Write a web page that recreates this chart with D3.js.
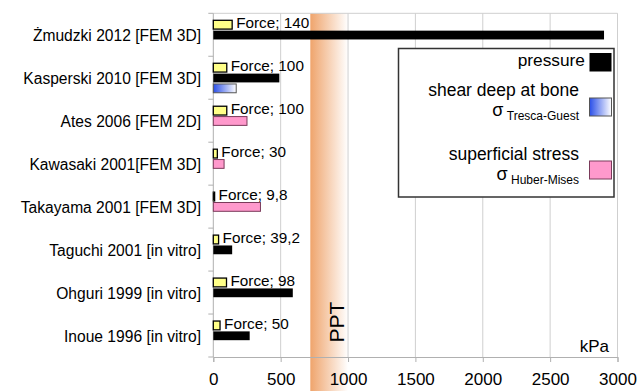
<!DOCTYPE html>
<html><head><meta charset="utf-8">
<script src="https://cdn.jsdelivr.net/npm/d3@7"></script>
<style>body{margin:0;background:#fff}text{font-family:"Liberation Sans",Arial,sans-serif}</style>
</head><body><svg id="c" width="638" height="391"></svg>
<script>
const categories = ["Żmudzki 2012 [FEM 3D]","Kasperski 2010 [FEM 3D]","Ates 2006 [FEM 2D]","Kawasaki 2001[FEM 3D]","Takayama  2001 [FEM 3D]","Taguchi 2001 [in vitro]","Ohguri 1999 [in vitro]","Inoue 1996 [in vitro]"];
const force = [140,100,100,30,9.8,39.2,98,50];
const forceLabels = ["140","100","100","30","9,8","39,2","98","50"];
const pressure = [2900,490,null,null,null,140,590,270];
const shear = [null,170,null,null,null,null,null,null];
const superficial = [null,null,250,80,350,null,null,null];
const ppt = [720,1000];
const xTicks = [0,500,1000,1500,2000,2500,3000];

const svg = d3.select("#c");
const L=213.3, R=617.5, T=13.3, B=357;
const x = d3.scaleLinear().domain([0,3000]).range([L,R]);
const y = d3.scaleBand().domain(categories).range([T,B]);
const slot = d3.scaleBand().domain(["force","main","shear"]).range([7,36.5]).paddingInner(0.15);

const defs = svg.append("defs");
const og = defs.append("linearGradient").attr("id","og");
og.append("stop").attr("offset","0%").attr("stop-color","#efa46c");
og.append("stop").attr("offset","100%").attr("stop-color","#ffffff");
const bg = defs.append("linearGradient").attr("id","bg");
bg.append("stop").attr("offset","0%").attr("stop-color","#2a4fe8");
bg.append("stop").attr("offset","100%").attr("stop-color","#ffffff");

// PPT band
svg.append("rect").attr("x",x(ppt[0])).attr("y",T).attr("width",x(ppt[1])-x(ppt[0])).attr("height",391-T).attr("fill","url(#og)");

// grid
svg.append("g").selectAll("line").data(xTicks.slice(1)).join("line")
  .attr("x1",d=>x(d)).attr("x2",d=>x(d)).attr("y1",T).attr("y2",B)
  .attr("stroke","#cfcfcf").attr("stroke-width",1);
svg.append("line").attr("x1",L).attr("x2",R).attr("y1",T).attr("y2",T).attr("stroke","#cfcfcf");

// bottom axis
const xa = svg.append("g").attr("transform",`translate(0,${B})`)
  .call(d3.axisBottom(x).tickValues(xTicks).tickSize(5).tickPadding(11).tickFormat(d3.format("d")));
xa.select(".domain").attr("stroke","#b0b0b0");
xa.selectAll(".tick line").attr("stroke","#b0b0b0");
xa.selectAll(".tick text").attr("font-size","17px").attr("fill","#000").attr("font-family","Liberation Sans, Arial, sans-serif");

// left axis
const ya = svg.append("g").attr("transform",`translate(${L},0)`);
ya.append("line").attr("x1",0).attr("x2",0).attr("y1",T).attr("y2",B).attr("stroke","#b0b0b0");
ya.selectAll(".bt").data(d3.range(categories.length+1)).join("line")
  .attr("x1",-5).attr("x2",0).attr("y1",i=>T+i*y.step()).attr("y2",i=>T+i*y.step()).attr("stroke","#b0b0b0");
svg.append("g").selectAll("text").data(categories).join("text")
  .attr("x",201).attr("y",d=>y(d)+y.bandwidth()/2+6.5).attr("text-anchor","end")
  .attr("font-size","15.6px").text(d=>d);

// bars
const g = svg.append("g");
categories.forEach((c,i)=>{
  const y0 = y(c);
  g.append("rect").attr("x",x(0)).attr("y",y0+slot("force")).attr("width",x(force[i])-x(0)).attr("height",slot.bandwidth())
    .attr("fill","#ffff88").attr("stroke","#000").attr("stroke-width",1.3);
  g.append("text").attr("x",x(force[i])+4).attr("y",y0+slot("force")+slot.bandwidth()-1)
    .attr("font-size","15.3px").text("Force; "+forceLabels[i]);
  if(pressure[i]!=null) g.append("rect").attr("x",x(0)).attr("y",y0+slot("main")).attr("width",x(pressure[i])-x(0)).attr("height",slot.bandwidth()).attr("fill","#000");
  if(superficial[i]!=null) g.append("rect").attr("x",x(0)).attr("y",y0+slot("main")).attr("width",x(superficial[i])-x(0)).attr("height",slot.bandwidth())
    .attr("fill","#ff99cc").attr("stroke","#7a3a5a").attr("stroke-width",1);
  if(shear[i]!=null) g.append("rect").attr("x",x(0)).attr("y",y0+slot("shear")).attr("width",x(shear[i])-x(0)).attr("height",slot.bandwidth())
    .attr("fill","url(#bg)").attr("stroke","#555").attr("stroke-width",1);
});

// PPT label
svg.append("text").attr("transform",`translate(${x(ppt[0])+34},${322}) rotate(-90)`).attr("text-anchor","middle")
  .attr("font-size","21px").text("PPT");
svg.append("text").attr("x",609).attr("y",352).attr("text-anchor","end").attr("font-size","17px").text("kPa");

// legend
const lg = svg.append("g");
lg.append("rect").attr("x",398.5).attr("y",48.5).attr("width",215.5).attr("height",148.5).attr("fill","#fff").attr("stroke","#333").attr("stroke-width",1.5);
lg.append("text").attr("x",585).attr("y",66).attr("text-anchor","end").attr("font-size","17.3px").text("pressure");
lg.append("rect").attr("x",589.5).attr("y",53).attr("width",22).attr("height",18.5).attr("fill","#000");
lg.append("text").attr("x",579).attr("y",96).attr("text-anchor","end").attr("font-size","17.5px").text("shear deep at bone");
const t1 = lg.append("text").attr("x",579).attr("y",120).attr("text-anchor","end");
t1.append("tspan").attr("font-size","18px").attr("dy",-4).text("σ");
t1.append("tspan").attr("font-size","12px").attr("dy",4).text(" Tresca-Guest");
lg.append("rect").attr("x",589.5).attr("y",98).attr("width",22).attr("height",18).attr("fill","url(#bg)").attr("stroke","#555");
lg.append("text").attr("x",579).attr("y",160).attr("text-anchor","end").attr("font-size","17.5px").text("superficial stress");
const t2 = lg.append("text").attr("x",579).attr("y",184).attr("text-anchor","end");
t2.append("tspan").attr("font-size","18px").attr("dy",-4).text("σ");
t2.append("tspan").attr("font-size","12px").attr("dy",4).text(" Huber-Mises");
lg.append("rect").attr("x",589.5).attr("y",161).attr("width",22).attr("height",18).attr("fill","#ff99cc").attr("stroke","#7a3a5a");
</script></body></html>
